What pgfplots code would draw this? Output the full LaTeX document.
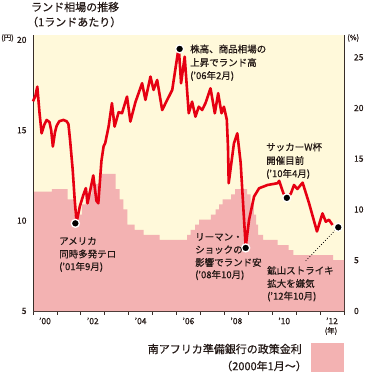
\documentclass[border=0pt]{standalone}
\usepackage{fontspec}
\setmainfont{Noto Sans CJK JP}[FakeBold=0.6]
\usepackage{pgfplots}
\pgfplotsset{compat=1.18}
\definecolor{bg}{RGB}{255,249,218}
\definecolor{pinkr}{RGB}{243,178,178}
\definecolor{redl}{RGB}{230,0,18}
\definecolor{axl}{RGB}{55,45,40}
\definecolor{txt}{RGB}{35,24,21}
\begin{document}
\begin{tikzpicture}
\useasboundingbox (0pt,0pt) rectangle (364pt,372pt);
\begin{axis}[at={(33pt,61pt)}, anchor=south west,
  width=311pt, height=276pt, scale only axis,
  xmin=2000, xmax=2013, ymin=0, ymax=27.19,
  axis background/.style={fill=bg},
  axis x line*=bottom, axis y line*=right,
  axis line style={axl, line width=0.8pt},
  xtick={2000,2001,2002,2003,2004,2005,2006,2007,2008,2009,2010,2011,2012,2013},
  xticklabels={},
  tick align=outside,
  major tick length=3.5pt,
  x tick style={axl, line width=0.8pt},
  extra x ticks={2000.5,2002.5,2004.5,2006.5,2008.5,2010.5,2012.5},
  extra x tick labels={’00,’02,’04,’06,’08,’10,’12},
  extra x tick style={major tick length=0pt},
  ytick={0,5,10,15,20,25},
  y tick style={draw=none},
  /pgf/number format/assume math mode=true,
  tick label style={font=\fontsize{8.5}{9}\selectfont, text=txt},
  xticklabel style={yshift=-3pt},
  yticklabel style={anchor=west, xshift=3pt},
]
\addplot[const plot, fill=pinkr, draw=none] coordinates {
(2000.00,11.75) (2000.79,12.0) (2001.45,11.0) (2001.72,9.5) (2002.04,10.5)
(2002.20,11.5) (2002.45,12.5) (2002.82,13.5) (2003.45,12.0) (2003.62,11.0)
(2003.78,10.0) (2003.95,8.5) (2004.25,8.0) (2004.62,7.5) (2005.29,7.0)
(2006.44,7.5) (2006.59,8.0) (2006.78,8.5) (2006.94,9.0) (2007.44,9.5)
(2007.63,10.0) (2007.78,10.5) (2007.93,11.0) (2008.28,11.5) (2008.45,12.0)
(2008.95,11.5) (2009.10,10.5) (2009.23,9.5) (2009.33,8.5) (2009.41,7.5)
(2009.62,7.0) (2010.23,6.5) (2010.69,6.0) (2010.88,5.5) (2012.55,5.0)
(2013.00,5.0)} \closedcycle;
\end{axis}
\begin{axis}[at={(33pt,61pt)}, anchor=south west,
  width=311pt, height=276pt, scale only axis,
  xmin=2000, xmax=2013, ymin=5, ymax=20.27,
  axis x line=none, axis y line*=left,
  axis line style={axl, line width=0.8pt},
  ytick={5,10,15,20},
  y tick style={draw=none},
  /pgf/number format/assume math mode=true,
  tick label style={font=\fontsize{8.5}{9}\selectfont, text=txt},
  yticklabel style={anchor=east, xshift=-3pt},
  clip=false,
]
\addplot[redl, line width=2.6pt, line join=round] coordinates {
(2000.00,16.6) (2000.10,16.9) (2000.18,17.41) (2000.27,16.0) (2000.36,14.83)
(2000.47,15.3) (2000.57,15.57) (2000.69,15.45) (2000.76,15.0) (2000.83,14.1)
(2000.92,14.9) (2000.99,15.25) (2001.10,15.5) (2001.27,15.57) (2001.40,15.5)
(2001.48,15.35) (2001.55,14.46) (2001.66,12.8) (2001.74,11.2) (2001.82,9.9)
(2001.96,10.8) (2002.10,11.4) (2002.21,11.8) (2002.28,10.96) (2002.38,11.6)
(2002.52,12.5) (2002.65,11.1) (2002.73,10.96) (2002.86,13.3) (2002.95,14.1)
(2003.02,14.3) (2003.16,15.2) (2003.30,16.5) (2003.41,15.2) (2003.58,16.0)
(2003.72,15.94) (2003.93,16.86) (2004.07,15.48) (2004.28,16.55) (2004.56,17.6)
(2004.70,16.68) (2004.91,17.97) (2005.04,17.23) (2005.19,17.78) (2005.40,16.12)
(2005.61,16.68) (2005.82,17.23) (2006.03,19.07) (2006.09,19.63) (2006.19,17.6)
(2006.34,19.07) (2006.51,15.94) (2006.65,16.58) (2006.79,15.75) (2006.93,16.3)
(2007.07,16.12) (2007.21,16.5) (2007.42,17.32) (2007.60,15.94) (2007.74,17.05)
(2007.88,15.94) (2007.98,16.3) (2008.10,15.6) (2008.15,14.1) (2008.18,12.07)
(2008.40,14.28) (2008.54,14.83) (2008.68,13.2) (2008.89,8.55) (2009.03,10.03)
(2009.24,11.33) (2009.45,11.79) (2009.80,11.97) (2010.22,12.07) (2010.29,12.2)
(2010.47,11.5) (2010.61,11.24) (2010.78,11.5) (2010.91,11.97) (2011.05,11.75)
(2011.27,12.1) (2011.54,10.96) (2011.87,9.4) (2012.10,10.4) (2012.24,9.94)
(2012.37,10.05) (2012.52,9.76)};
\addplot[black, dotted, line width=0.8pt] coordinates {(2011.40,7.77) (2012.64,9.48)};
\addplot[only marks, mark=*, mark size=4pt,
  mark options={fill=black, draw=white, line width=1.3pt}] coordinates {
(2001.77,9.85) (2006.13,19.5) (2008.89,8.49) (2010.61,11.26) (2012.76,9.63)};
\end{axis}
% titles and annotations (positions given as pixel x, 372 - pixel y)
\begin{scope}[x=1pt, y=1pt, every node/.style={inner sep=0pt, text=txt}]
\node[anchor=west, font=\fontsize{11}{12}\selectfont] at (31,{372-7}) {ランド相場の推移};
\node[anchor=west, font=\fontsize{11}{12}\selectfont] at (27,{372-22}) {（1ランドあたり）};
\node[anchor=west, font=\fontsize{7.5}{8}\selectfont] at (1,{372-38}) {(円)};
\node[anchor=west, font=\fontsize{7.5}{8}\selectfont] at (347,{372-38}) {(\%)};
\node[anchor=center, font=\fontsize{7.5}{8}\selectfont] at (331,{372-331}) {(年)};
\foreach \t [count=\i] in {株高、商品相場の,上昇でランド高,('06年2月)}
  \node[anchor=west, font=\fontsize{9.5}{10}\selectfont] at (190,{372-(49+13.5*\i-13.5)}) {\t};
\foreach \t [count=\i] in {サッカーW杯,開催目前,('10年4月)}
  \node[anchor=west, font=\fontsize{9.5}{10}\selectfont] at (266,{372-(147+13.5*\i-13.5)}) {\t};
\foreach \t [count=\i] in {アメリカ,同時多発テロ,('01年9月)}
  \node[anchor=west, font=\fontsize{9.5}{10}\selectfont] at (59,{372-(241+13*\i-13)}) {\t};
\foreach \t [count=\i] in {リーマン・,ショックの,影響でランド安,('08年10月)}
  \node[anchor=west, font=\fontsize{9.5}{10}\selectfont] at (195,{372-(237+12.7*\i-12.7)}) {\t};
\foreach \t [count=\i] in {鉱山ストライキ,拡大を嫌気,('12年10月)}
  \node[anchor=west, font=\fontsize{9.5}{10}\selectfont] at (267,{372-(270.5+13*\i-13)}) {\t};
\node[anchor=east, font=\fontsize{11}{12}\selectfont] at (302,{372-349}) {南アフリカ準備銀行の政策金利};
\node[anchor=east, font=\fontsize{11}{12}\selectfont] at (307,{372-366}) {（2000年1月～）};
\fill[pinkr] (311,0) rectangle (344,{372-343});
\end{scope}
\end{tikzpicture}
\end{document}
